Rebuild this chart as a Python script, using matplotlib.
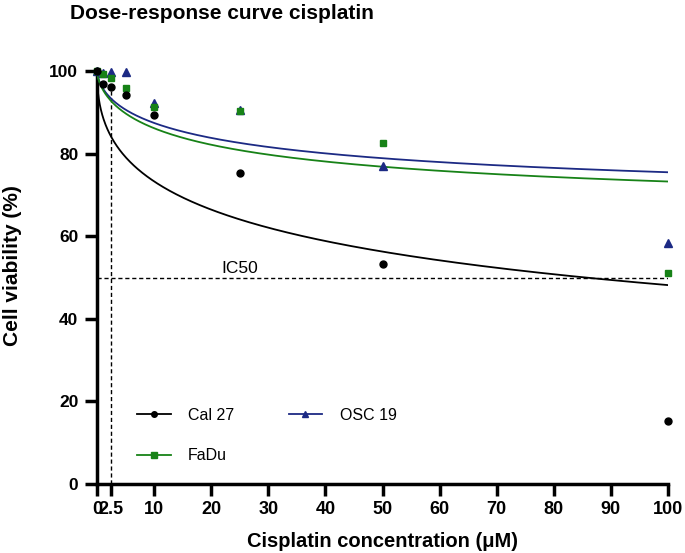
import numpy as np
import matplotlib
matplotlib.use("Agg")
import matplotlib.pyplot as plt
from matplotlib.lines import Line2D

plt.rcParams['font.family'] = ['Liberation Sans', 'DejaVu Sans']

# ---- data ----
conc = [0, 1, 2.5, 5, 10, 25, 50, 100]
cal27 = [100, 96.9, 96.2, 94.3, 89.3, 75.3, 53.3, 15.3]
fadu = [100, 99.3, 98.4, 96.0, 91.4, 90.3, 82.5, 51.0]
osc19 = [100, 99.6, 99.8, 99.8, 92.2, 90.5, 77.0, 58.3]

# fitted dose-response parameters: (top, bottom, EC50, hill)
fit_cal27 = (100, 0, 85.5, 0.47)
fit_fadu = (100, 63, 22.3, 0.64)
fit_osc19 = (100, 65, 25.4, 0.62)

x_ticks = [0, 2.5, 10, 20, 30, 40, 50, 60, 70, 80, 90, 100]
x_ticklabels = ['0', '2.5', '10', '20', '30', '40', '50', '60', '70', '80', '90', '100']
y_ticks = [0, 20, 40, 60, 80, 100]

c_black = '#000000'
c_green = '#178217'
c_navy = '#1c2a84'


def model(x, p):
    top, bottom, ec50, h = p
    return bottom + (top - bottom) / (1 + (x / ec50) ** h)


fig = plt.figure(figsize=(6.85, 5.53), dpi=100)
ax = fig.add_axes([97 / 685, 1 - 484 / 553, 571 / 685, 413 / 553])

xs = np.concatenate([np.linspace(0.0005, 1, 400), np.linspace(1, 100, 600)])
ax.plot(xs, model(xs, fit_cal27), color=c_black, lw=1.3, zorder=3)
ax.plot(xs, model(xs, fit_osc19), color=c_navy, lw=1.3, zorder=3)
ax.plot(xs, model(xs, fit_fadu), color=c_green, lw=1.3, zorder=3)

ax.plot(conc, osc19, ls='none', marker='^', ms=5.5, color=c_navy, clip_on=False, zorder=4)
ax.plot(conc, fadu, ls='none', marker='s', ms=5, color=c_green, clip_on=False, zorder=5)
ax.plot(conc, cal27, ls='none', marker='o', ms=5, color=c_black, clip_on=False, zorder=6)

# IC50 guides
ax.plot([0, 100], [50, 50], color='black', lw=1.0, ls=(0, (3, 2)), zorder=2)
ax.plot([2.5, 2.5], [0, 96.5], color='black', lw=1.0, ls=(0, (3, 2)), zorder=2)
ax.text(21.8, 51.0, 'IC50', fontsize=12.5, ha='left', va='baseline')

ax.set_xlim(0, 100)
ax.set_ylim(0, 100)
ax.set_xticks(x_ticks)
ax.set_xticklabels(x_ticklabels)
ax.set_yticks(y_ticks)
for s in ['top', 'right']:
    ax.spines[s].set_visible(False)
for s in ['left', 'bottom']:
    ax.spines[s].set_linewidth(2.5)
ax.tick_params(axis='both', direction='out', length=8.5, width=2.5)
ax.tick_params(axis='y', pad=5, labelsize=12.5)
ax.tick_params(axis='x', pad=3.5, labelsize=13)
for lab in ax.get_xticklabels() + ax.get_yticklabels():
    lab.set_fontweight('bold')

ax.set_xlabel('Cisplatin concentration (μM)', fontsize=14.5, fontweight='bold', labelpad=10)
ax.set_ylabel('Cell viability (%)', fontsize=15, fontweight='bold')
ax.yaxis.set_label_coords(-0.131, 0.53)
fig.text(70 / 685, 1 - 4 / 553, 'Dose-response curve cisplatin', fontsize=15,
         fontweight='bold', ha='left', va='top')

handles = [
    Line2D([], [], color=c_black, marker='o', ms=4, lw=1.3),
    Line2D([], [], color=c_green, marker='s', ms=4, lw=1.3),
    Line2D([], [], color=c_navy, marker='^', ms=4, lw=1.3),
]
labels = ['Cal 27', 'FaDu', 'OSC 19']
ax.legend(handles, labels, ncol=2, frameon=False, fontsize=11.5,
          loc='lower left', bbox_to_anchor=(0.07, 0.05), borderpad=0, borderaxespad=0,
          handlelength=2.1, handletextpad=1.1, columnspacing=3.4, labelspacing=1.6)

fig.savefig('out.png', dpi=100)
